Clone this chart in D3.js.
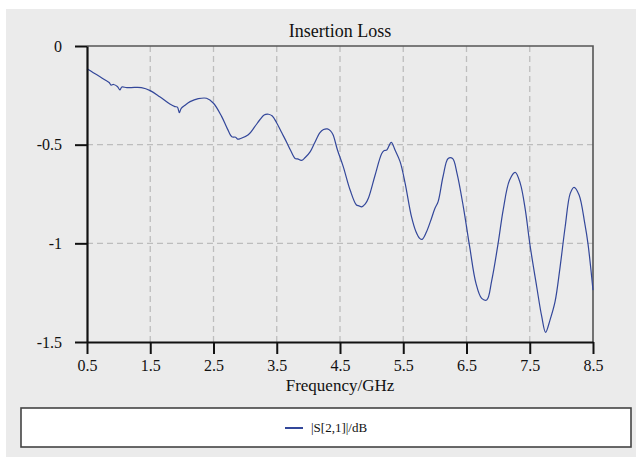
<!DOCTYPE html>
<html lang="en">
<head>
<meta charset="UTF-8"/>
<title>Insertion Loss</title>
<script src="https://d3js.org/d3.v7.min.js"></script>
<style>
	body { margin: 0; background: #fff; }
	text { font-family: "Liberation Serif", "Times New Roman", serif; fill: #111; }
</style>
</head>
<body>
<script>
	// frequency (GHz) and |S[2,1]| (dB)
	var freq = [0.50, 0.60, 0.70, 0.80, 0.85, 0.88, 0.92, 0.98, 1.02, 1.05, 1.13, 1.25, 1.36, 1.50,
		1.65, 1.81, 1.89, 1.93, 1.96, 1.99, 2.05, 2.13, 2.26, 2.39, 2.50, 2.63, 2.72, 2.79, 2.85,
		2.88, 2.92, 3.05, 3.15, 3.23, 3.30, 3.37, 3.43, 3.50, 3.58, 3.66, 3.72, 3.79, 3.83, 3.89,
		3.95, 4.03, 4.10, 4.18, 4.24, 4.30, 4.35, 4.39, 4.46, 4.55, 4.66, 4.76, 4.80, 4.84, 4.90,
		4.95, 5.05, 5.16, 5.20, 5.24, 5.31, 5.37, 5.45, 5.53, 5.63, 5.70, 5.76, 5.80, 5.87, 5.95,
		6.00, 6.05, 6.13, 6.21, 6.28, 6.35, 6.45, 6.55, 6.65, 6.74, 6.82, 6.90, 7.00, 7.08, 7.18,
		7.27, 7.35, 7.43, 7.50, 7.61, 7.69, 7.75, 7.82, 7.90, 7.98, 8.06, 8.14, 8.20, 8.28, 8.37,
		8.42, 8.50];
	var s21 = [-0.115, -0.135, -0.155, -0.175, -0.185, -0.198, -0.195, -0.205, -0.222, -0.208, -0.211, -0.210, -0.211, -0.226,
		-0.257, -0.294, -0.307, -0.310, -0.338, -0.316, -0.300, -0.282, -0.267, -0.265, -0.290, -0.358, -0.420, -0.460, -0.462,
		-0.472, -0.470, -0.450, -0.410, -0.375, -0.350, -0.346, -0.355, -0.390, -0.440, -0.490, -0.530, -0.570, -0.572, -0.580,
		-0.565, -0.535, -0.490, -0.440, -0.423, -0.420, -0.430, -0.450, -0.527, -0.610, -0.730, -0.806, -0.810, -0.815, -0.800,
		-0.770, -0.660, -0.545, -0.530, -0.527, -0.488, -0.527, -0.586, -0.696, -0.865, -0.940, -0.975, -0.980, -0.940, -0.870,
		-0.823, -0.790, -0.660, -0.570, -0.570, -0.645, -0.815, -1.017, -1.203, -1.279, -1.287, -1.186, -1.000, -0.830, -0.680,
		-0.640, -0.696, -0.830, -1.000, -1.220, -1.372, -1.451, -1.389, -1.296, -1.119, -0.916, -0.747, -0.716, -0.755, -0.899,
		-1.000, -1.237];
	var xTicks = [0.5, 1.5, 2.5, 3.5, 4.5, 5.5, 6.5, 7.5, 8.5];
	var yTicks = [0, -0.5, -1, -1.5];
	var seriesName = "|S[2,1]|/dB";

	var w = 636, h = 457;
	var plotL = 87, plotR = 593, plotT = 46, plotB = 342;
	var lineColour = "#33479a";

	var svg = d3.select("body").append("svg")
		.attr("width", w)
		.attr("height", h);

	// grey panel
	svg.append("rect")
		.attr("x", 6).attr("y", 9)
		.attr("width", w - 6).attr("height", h - 9)
		.attr("fill", "#ebebeb");

	var xScale = d3.scaleLinear().domain([0.5, 8.5]).range([plotL, plotR]);
	var yScale = d3.scaleLinear().domain([-1.5, 0]).range([plotB, plotT]);

	// dashed grid
	svg.append("g").selectAll("line")
		.data(xTicks.slice(1, -1))
		.enter().append("line")
		.attr("x1", d => xScale(d)).attr("x2", d => xScale(d))
		.attr("y1", plotT).attr("y2", plotB)
		.attr("stroke", "#bdbdbd").attr("stroke-width", 1.3)
		.attr("stroke-dasharray", "6,4");

	svg.append("g").selectAll("line")
		.data(yTicks.slice(1, -1))
		.enter().append("line")
		.attr("x1", plotL).attr("x2", plotR)
		.attr("y1", d => yScale(d)).attr("y2", d => yScale(d))
		.attr("stroke", "#bdbdbd").attr("stroke-width", 1.3)
		.attr("stroke-dasharray", "6,4");

	// top and right frame
	svg.append("path")
		.attr("d", "M" + plotL + "," + plotT + "H" + plotR + "V" + plotB)
		.attr("fill", "none")
		.attr("stroke", "#555").attr("stroke-width", 1.6);

	// the curve
	var line = d3.line()
		.x(d => xScale(d[0]))
		.y(d => yScale(d[1]))
		.curve(d3.curveCatmullRom.alpha(0.5));

	svg.append("path")
		.datum(freq.map((f, i) => [f, s21[i]]))
		.attr("d", line)
		.attr("fill", "none")
		.attr("stroke", lineColour)
		.attr("stroke-width", 1.2);

	// axes
	var xAxis = d3.axisBottom(xScale)
		.tickValues(xTicks)
		.tickFormat(d3.format(".1f"))
		.tickSizeInner(12).tickSizeOuter(0)
		.tickPadding(6);

	var yAxis = d3.axisLeft(yScale)
		.tickValues(yTicks)
		.tickFormat(d => String(d))
		.tickSizeInner(12).tickSizeOuter(0)
		.tickPadding(13);

	var gx = svg.append("g")
		.attr("transform", "translate(0," + plotB + ")")
		.call(xAxis);
	var gy = svg.append("g")
		.attr("transform", "translate(" + plotL + ",0)")
		.call(yAxis);

	[gx, gy].forEach(function(g) {
		g.select(".domain").attr("stroke", "#111").attr("stroke-width", 2.2);
		g.selectAll(".tick line").attr("stroke", "#111").attr("stroke-width", 2);
		g.selectAll(".tick text")
			.attr("fill", "#111")
			.style("font-family", "'Liberation Serif', 'Times New Roman', serif")
			.style("font-size", "16px");
	});

	// title and axis label
	svg.append("text")
		.attr("x", (plotL + plotR) / 2).attr("y", 37)
		.attr("text-anchor", "middle")
		.style("font-size", "18px")
		.text("Insertion Loss");

	svg.append("text")
		.attr("x", (plotL + plotR) / 2).attr("y", 391)
		.attr("text-anchor", "middle")
		.style("font-size", "17px")
		.text("Frequency/GHz");

	// legend
	svg.append("rect")
		.attr("x", 21).attr("y", 408)
		.attr("width", 610).attr("height", 39)
		.attr("fill", "#fff")
		.attr("stroke", "#444").attr("stroke-width", 1.6);

	svg.append("line")
		.attr("x1", 285).attr("x2", 303)
		.attr("y1", 428).attr("y2", 428)
		.attr("stroke", lineColour).attr("stroke-width", 2);

	svg.append("text")
		.attr("x", 311).attr("y", 432)
		.style("font-size", "13px")
		.text(seriesName);
</script>
</body>
</html>
